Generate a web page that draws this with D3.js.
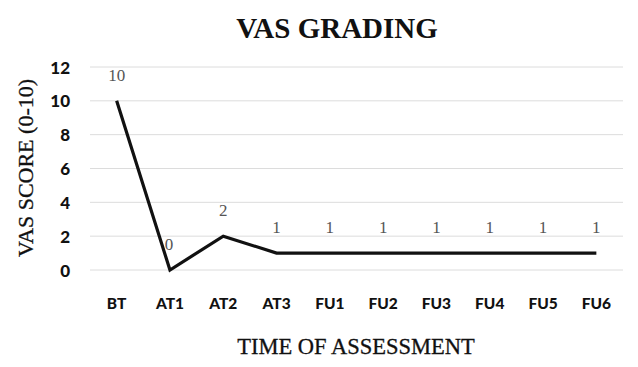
<!DOCTYPE html>
<html><head><meta charset="utf-8">
<script src="https://cdn.jsdelivr.net/npm/d3@7"></script>
<style>body{margin:0;background:#fff}</style>
</head><body>
<svg id="c" width="638" height="367"></svg>
<script>
const categories = ["BT","AT1","AT2","AT3","FU1","FU2","FU3","FU4","FU5","FU6"];
const values = [10,0,2,1,1,1,1,1,1,1];
const yTicks = [0,2,4,6,8,10,12];

const svg = d3.select("#c");
const x = d3.scaleBand().domain(categories).range([90,623]);
const y = d3.scaleLinear().domain([0,12]).range([270,67]);

svg.append("text").attr("x",337).attr("y",38).attr("text-anchor","middle")
  .attr("font-family","Liberation Serif").attr("font-weight","bold").attr("font-size",29)
  .attr("fill","#111").text("VAS GRADING");

const g = svg.append("g");
g.selectAll("line.grid").data(yTicks).join("line")
  .attr("x1",90).attr("x2",623).attr("y1",d=>y(d)).attr("y2",d=>y(d))
  .attr("stroke","#dcdcdc").attr("stroke-width",1);

const yAxis = d3.axisLeft(y).tickValues(yTicks).tickSize(0).tickPadding(0);
const ya = svg.append("g").attr("transform","translate(70,0)").call(yAxis);
ya.select(".domain").remove();
ya.selectAll("text").attr("font-family","Lato").attr("font-weight","900").attr("font-size",17).attr("fill","#111").attr("dy","0.36em");

const xAxis = d3.axisBottom(x).tickSize(0).tickPadding(0);
const xa = svg.append("g").attr("transform","translate(0,297)").call(xAxis);
xa.select(".domain").remove();
xa.selectAll("text").attr("font-family","Lato").attr("font-weight","900").attr("font-size",15.5).attr("fill","#111").attr("dy","0.75em");

const line = d3.line().x((d,i)=>x(categories[i])+x.bandwidth()/2).y(d=>y(d));
svg.append("path").datum(values).attr("d",line).attr("fill","none")
  .attr("stroke","#111").attr("stroke-width",3.2).attr("stroke-linejoin","miter");

svg.selectAll("text.lbl").data(values).join("text").attr("class","lbl")
  .attr("x",(d,i)=>x(categories[i])+x.bandwidth()/2 - (d===0?1:0))
  .attr("y",d=>y(d)-20).attr("text-anchor","middle")
  .attr("font-family","Liberation Serif").attr("font-size",17).attr("fill","#555")
  .text(d=>d);

svg.append("text").attr("transform","translate(33,168) rotate(-90)").attr("text-anchor","middle")
  .attr("font-family","Liberation Serif").attr("font-size",22)
  .attr("fill","#111").attr("stroke","#111").attr("stroke-width",0.3).text("VAS SCORE (0-10)");

svg.append("text").attr("x",356).attr("y",354).attr("text-anchor","middle")
  .attr("font-family","Liberation Serif").attr("font-size",22.5)
  .attr("fill","#111").attr("stroke","#111").attr("stroke-width",0.3).text("TIME OF ASSESSMENT");
</script>
</body></html>
